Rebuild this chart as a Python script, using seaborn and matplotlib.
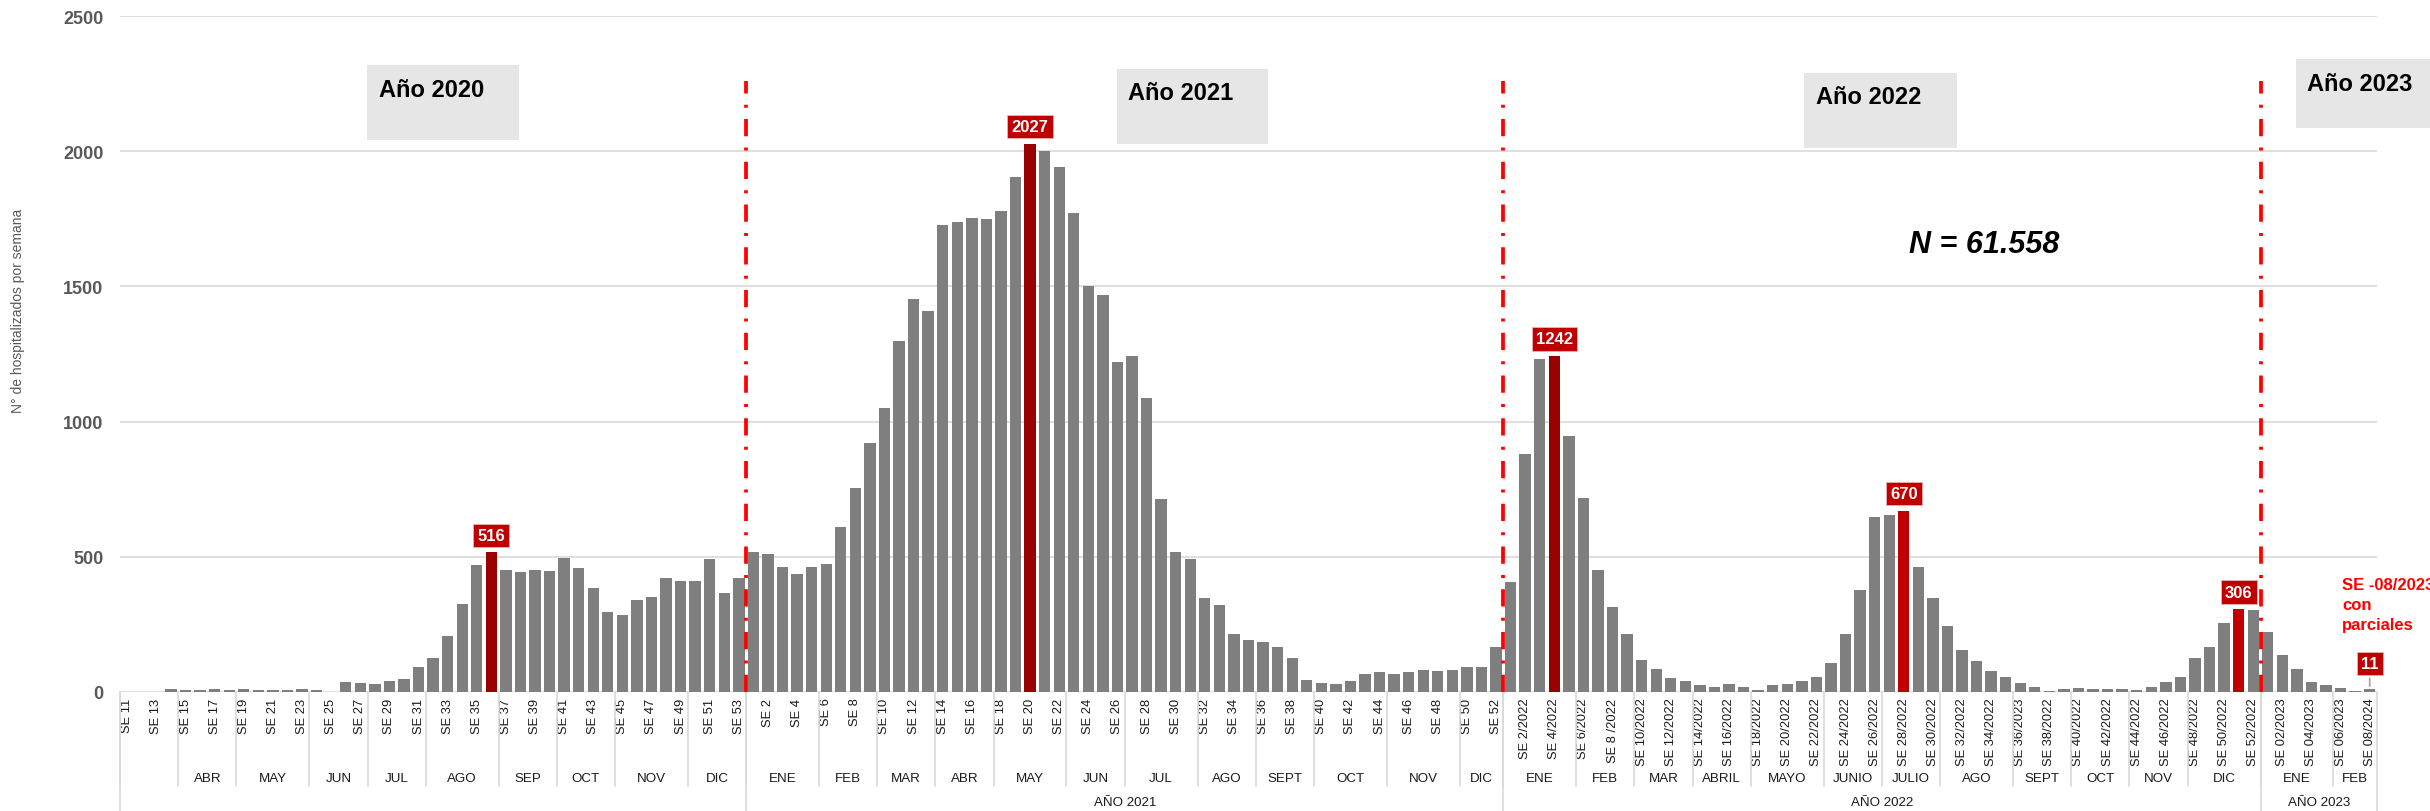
import matplotlib
matplotlib.use("Agg")
import matplotlib.pyplot as plt
import matplotlib.transforms as mtransforms
from matplotlib.patches import Rectangle
import pandas as pd
import seaborn as sns

# Hospitalizados por semana epidemiologica (SE 11/2020 .. SE 08/2023)
weeks_2020 = list(range(11, 54))
weeks_2021 = list(range(1, 53))
weeks_2022 = list(range(1, 53))
weeks_2023 = list(range(1, 9))

hosp_2020 = [0, 0, 0, 10, 6, 6, 10, 6, 10, 6, 6, 6, 10, 6, 0,
             38, 32, 28, 42, 49, 94, 126, 206, 325, 469, 516,
             453, 443, 453, 448, 496, 458, 385, 295, 286,
             340, 352, 423, 410, 412, 491, 365, 423]
hosp_2021 = [518, 509, 464, 437, 464, 475, 609,
             756, 920, 1051, 1299, 1453, 1410, 1728, 1737, 1753, 1748, 1779,
             1906, 2027, 2001, 1942, 1770, 1502, 1468, 1222, 1241, 1088, 714,
             518, 491, 346, 322, 216, 191, 186, 165, 126, 43, 33, 28, 42,
             67, 74, 67, 74, 80, 78, 80, 94, 91, 168]
hosp_2022 = [405, 879, 1232, 1242, 947, 716, 453, 315, 215,
             118, 85, 52, 39, 26, 20, 29, 18, 9, 26, 29, 42, 54,
             109, 214, 377, 647, 654, 670, 464, 346, 243, 156, 115, 79, 54,
             33, 20, 5, 11, 14, 11, 11, 11, 9, 17, 36, 54, 126, 165,
             257, 306, 305]
hosp_2023 = [223, 136, 86, 36, 25, 14, 5, 11]

tick_labels = [
    "SE 11", "SE 13", "SE 15", "SE 17", "SE 19", "SE 21", "SE 23", "SE 25",
    "SE 27", "SE 29", "SE 31", "SE 33", "SE 35", "SE 37", "SE 39", "SE 41",
    "SE 43", "SE 45", "SE 47", "SE 49", "SE 51", "SE 53",
    "SE 2", "SE 4", "SE 6", "SE 8", "SE 10", "SE 12", "SE 14", "SE 16",
    "SE 18", "SE 20", "SE 22", "SE 24", "SE 26", "SE 28", "SE 30", "SE 32",
    "SE 34", "SE 36", "SE 38", "SE 40", "SE 42", "SE 44", "SE 46", "SE 48",
    "SE 50", "SE 52",
    "SE 2/2022", "SE 4/2022", "SE 6/2022", "SE 8 /2022", "SE 10/2022",
    "SE 12/2022", "SE 14/2022", "SE 16/2022", "SE 18/2022", "SE 20/2022",
    "SE 22/2022", "SE 24/2022", "SE 26/2022", "SE 28/2022", "SE 30/2022",
    "SE 32/2022", "SE 34/2022", "SE 36/2023", "SE 38/2022", "SE 40/2022",
    "SE 42/2022", "SE 44/2022", "SE 46/2022", "SE 48/2022", "SE 50/2022",
    "SE 52/2022",
    "SE 02/2023", "SE 04/2023", "SE 06/2023", "SE 08/2024",
]

month_names = ["", "ABR", "MAY", "JUN", "JUL", "AGO", "SEP", "OCT", "NOV", "DIC",
               "ENE", "FEB", "MAR", "ABR", "MAY", "JUN", "JUL", "AGO", "SEPT",
               "OCT", "NOV", "DIC",
               "ENE", "FEB", "MAR", "ABRIL", "MAYO", "JUNIO", "JULIO", "AGO",
               "SEPT", "OCT", "NOV", "DIC",
               "ENE", "FEB"]
month_weeks = [4, 4, 5, 4, 4, 5, 4, 4, 5, 4,
               5, 4, 4, 4, 5, 4, 5, 4, 4, 5, 5, 3,
               5, 4, 4, 4, 5, 4, 4, 5, 4, 4, 4, 5,
               5, 3]
year_names = ["", "AÑO 2021", "AÑO 2022", "AÑO 2023"]
year_weeks = [43, 52, 52, 8]

# bars highlighted in red and labelled
highlight = {"2020-36": "#990000", "2021-20": "#990000", "2022-4": "#990000",
             "2022-28": "#c00000", "2022-51": "#c00000"}
label_weeks = ["2020-36", "2021-20", "2022-4", "2022-28", "2022-51", "2023-8"]

semanas = ([f"2020-{w}" for w in weeks_2020] + [f"2021-{w}" for w in weeks_2021]
           + [f"2022-{w}" for w in weeks_2022] + [f"2023-{w}" for w in weeks_2023])
hosp = hosp_2020 + hosp_2021 + hosp_2022 + hosp_2023
df = pd.DataFrame({"semana": semanas, "hosp": hosp})
n = len(df)

sns.set_theme(style="white")
plt.rcParams["font.family"] = ["Liberation Sans", "DejaVu Sans"]

W, H = 2430, 812
fig = plt.figure(figsize=(W / 100, H / 100), dpi=100)
ax_left, ax_right, ax_top, ax_base = 120, 2377, 17, 693
ax = fig.add_axes([ax_left / W, 1 - ax_base / H, (ax_right - ax_left) / W,
                   (ax_base - ax_top) / H])

sns.barplot(data=df, x="semana", y="hosp", order=semanas, color="#7f7f7f",
            saturation=1, width=0.78, ax=ax)
for patch, wk in zip(ax.patches, semanas):
    patch.set_facecolor(highlight.get(wk, "#7f7f7f"))
    patch.set_edgecolor("none")

ax.set_xlim(-0.5, n - 0.5)
ax.set_ylim(0, 2500)
ax.set_yticks(range(0, 2501, 500))
ax.grid(axis="y", color="#d9d9d9", lw=1.2)
ax.grid(axis="x", visible=False)
ax.set_axisbelow(True)
for s in ax.spines.values():
    s.set_visible(False)
ax.set_xlabel("")
ax.set_ylabel("")

ax.set_xticks(range(0, n, 2))
ax.set_xticklabels(tick_labels, rotation=90, fontsize=9.3, color="#1a1a1a")
ax.tick_params(axis="x", length=0, pad=4)
ax.tick_params(axis="y", length=0, pad=12, labelsize=13, labelcolor="#595959")
for t in ax.get_yticklabels():
    t.set_fontweight("bold")

# multi-level category axis below the bars
trans = mtransforms.blended_transform_factory(ax.transData, ax.transAxes)
axh = ax_base - ax_top


def ay(ypx):
    return (ax_base - ypx) / axh


sep = dict(color="#d9d9d9", lw=1.2, transform=trans, clip_on=False)
start = 0
for name, nw in zip(month_names, month_weeks):
    ax.plot([start - 0.5, start - 0.5], [0, ay(787)], **sep)
    if name:
        ax.text(start + nw / 2 - 0.5, ay(779), name, transform=trans,
                ha="center", va="center", fontsize=9.6, color="#1a1a1a")
    start += nw
start = 0
for name, nw in zip(year_names, year_weeks):
    ax.plot([start - 0.5, start - 0.5], [0, ay(812)], **sep)
    if name:
        ax.text(start + nw / 2 - 0.5, ay(803), name, transform=trans,
                ha="center", va="center", fontsize=9.6, color="#1a1a1a")
    start += nw
ax.plot([n - 0.5, n - 0.5], [0, ay(812)], **sep)

# year boundaries
for wk in ["2021-1", "2022-1", "2023-1"]:
    x = semanas.index(wk) - 0.5
    ax.plot([x, x], [0, 2260], color="#ff0000", lw=2.7,
            linestyle=(0, (4.6, 3.0, 0.8, 3.0)), zorder=4)

# value labels
for wk in label_weeks:
    i = semanas.index(wk)
    v = hosp[i]
    last = wk == label_weeks[-1]
    ax.annotate(str(v), xy=(i, v), xytext=(0, 13 if last else 7),
                textcoords="offset points", ha="center", va="bottom",
                fontsize=12, fontweight="bold", color="white", zorder=6,
                bbox=dict(boxstyle="square,pad=0.25", fc="#c00000",
                          ec="#e9b3b3", lw=0.6),
                arrowprops=dict(arrowstyle="-", color="#a6a6a6", lw=1.3)
                if last else None)

# year boxes
for txt, x0, y0, x1, y1, tx, tb in [
        ("Año 2020", 367, 66, 519, 141, 379, 97),
        ("Año 2021", 1117, 70, 1268, 145, 1128, 100),
        ("Año 2022", 1804, 74, 1957, 149, 1816, 104),
        ("Año 2023", 2296, 60, 2440, 129, 2307, 91)]:
    fig.add_artist(Rectangle((x0 / W, 1 - y1 / H), (x1 - x0) / W, (y1 - y0) / H,
                             transform=fig.transFigure, fc="#e6e6e6", ec="none"))
    fig.text(tx / W, 1 - tb / H, txt, ha="left", va="baseline", fontsize=17,
             fontweight="bold", color="black")

fig.text(1909 / W, 1 - 253 / H, "N = 61.558", ha="left", va="baseline",
         fontsize=22, fontweight="bold", fontstyle="italic", color="black")
fig.text(2342 / W, 1 - 578 / H, "SE -08/2023\ncon\nparciales", ha="left",
         va="top", fontsize=12, fontweight="bold", color="#ff0000",
         linespacing=1.4)
fig.text(18 / W, 1 - 311 / H, "N° de hospitalizados por semana", rotation=90,
         ha="center", va="center", fontsize=10, color="#595959")

fig.savefig("out.png", dpi=100)
